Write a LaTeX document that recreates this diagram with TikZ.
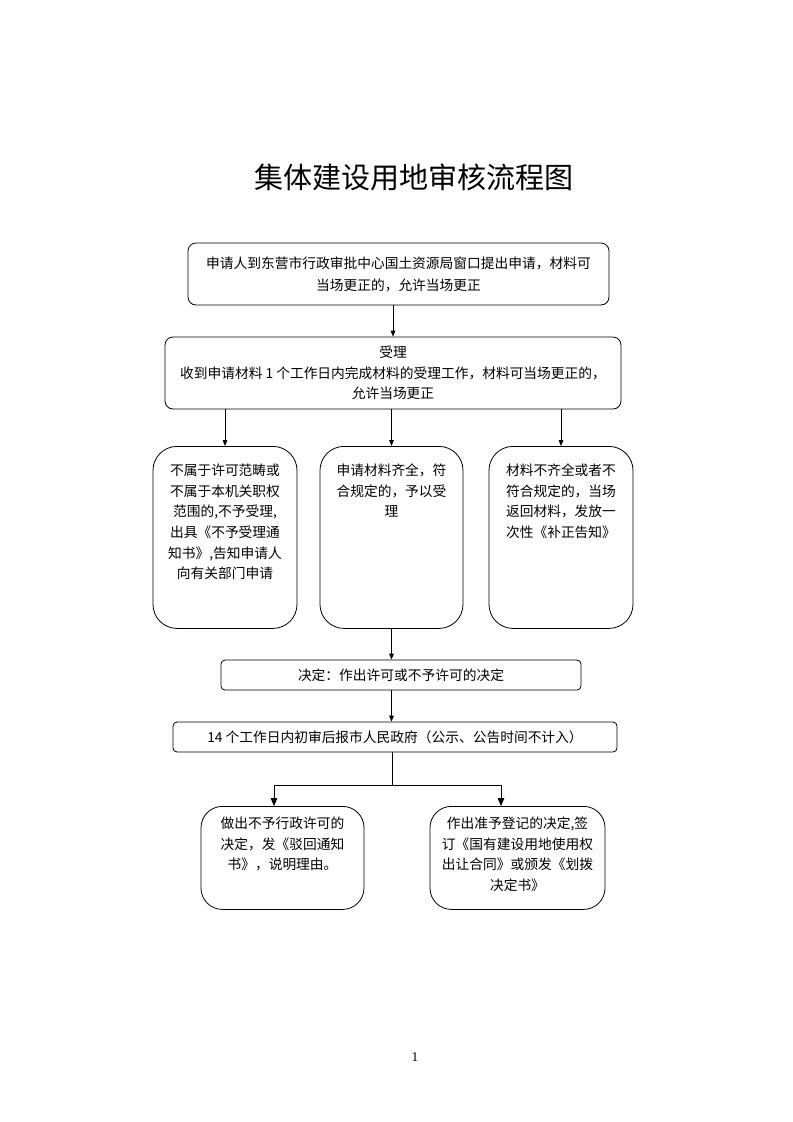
\documentclass[tikz,border=0pt]{standalone}
\usepackage{fontspec}
\setmainfont{Liberation Serif}
\newfontfamily\cjk{Noto Sans CJK SC}
\usetikzlibrary{arrows.meta}

\begin{document}
\begin{tikzpicture}[x=0.75pt,y=-0.75pt,
  every node/.style={draw, line width=0.6pt, align=center, inner sep=0pt, font=\cjk\fontsize{10.3}{15.5}\selectfont},
  arr/.style={-{Triangle[length=4.5pt,width=3.5pt]}, line width=0.6pt},
  bigarr/.style={-{Triangle[length=6pt,width=5pt]}, line width=0.6pt}]
\useasboundingbox (0,0) rectangle (793,1122);

\node[draw=none, font=\cjk\fontsize{21.8}{26}\selectfont] (title) at (414,177) {集体建设用地审核流程图};

\node[rounded corners=6pt, minimum width=315.75pt, minimum height=46.5pt, font=\cjk\fontsize{10.3}{16.5}\selectfont] (apply) at (398.5,274) {申请人到东营市行政审批中心国土资源局窗口提出申请，材料可\\当场更正的，允许当场更正};
\node[rounded corners=6pt, minimum width=342pt, minimum height=54pt] (receive) at (393,373) {受理\\收到申请材料 1 个工作日内完成材料的受理工作，材料可当场更正的，\\允许当场更正};

\node[rounded corners=18pt, anchor=north, text width=108pt, text height=21.8pt, text depth=114.7pt] (reject) at (225,446) {不属于许可范畴或\\不属于本机关职权\\范围的,不予受理,\\出具《不予受理通\\知书》,告知申请人\\向有关部门申请};
\node[rounded corners=18pt, anchor=north, text width=107.25pt, text height=21.8pt, text depth=114.7pt] (complete) at (391.5,446) {申请材料齐全，符\\合规定的，予以受\\理};
\node[rounded corners=18pt, anchor=north, text width=108pt, text height=21.8pt, text depth=114.7pt] (correct) at (561,446) {材料不齐全或者不\\符合规定的，当场\\返回材料，发放一\\次性《补正告知》};

\node[rounded corners=3pt, minimum width=270pt, minimum height=22.5pt] (decide) at (401,675) {决定：作出许可或不予许可的决定};
\node[rounded corners=3pt, minimum width=333pt, minimum height=22.5pt] (report) at (395,737) {14 个工作日内初审后报市人民政府（公示、公告时间不计入）};

\node[rounded corners=16pt, anchor=north, text width=122.25pt, text height=16.5pt, text depth=60.75pt] (deny) at (282.5,806) {做出不予行政许可的\\决定，发《驳回通知\\书》，说明理由。};
\node[rounded corners=16pt, anchor=north, text width=131.25pt, text height=16.5pt, text depth=60.75pt] (grant) at (517.5,806) {作出准予登记的决定,签\\订《国有建设用地使用权\\出让合同》或颁发《划拨\\决定书》};

\node[draw=none, font=\fontsize{10}{12}\selectfont] (page) at (415,1057) {1};

\draw[arr] (receive.north |- apply.south) -- (receive.north);
\foreach \b in {reject,complete,correct}
  \draw[arr] (receive.south -| \b.north) -- (\b.north);
\draw[arr] (complete.south) -- (complete.south |- decide.north);
\draw[arr] (decide.south -| complete.south) -- (report.north -| complete.south);

\coordinate (split) at (392,785);
\coordinate (left) at (274,785);
\coordinate (right) at (501,785);
\draw[line width=0.6pt] (report.south -| split) -- (split);
\draw[line width=0.6pt] (left) -- (right);
\draw[bigarr] (left) -- (left |- deny.north);
\draw[bigarr] (right) -- (right |- grant.north);
\end{tikzpicture}
\end{document}
